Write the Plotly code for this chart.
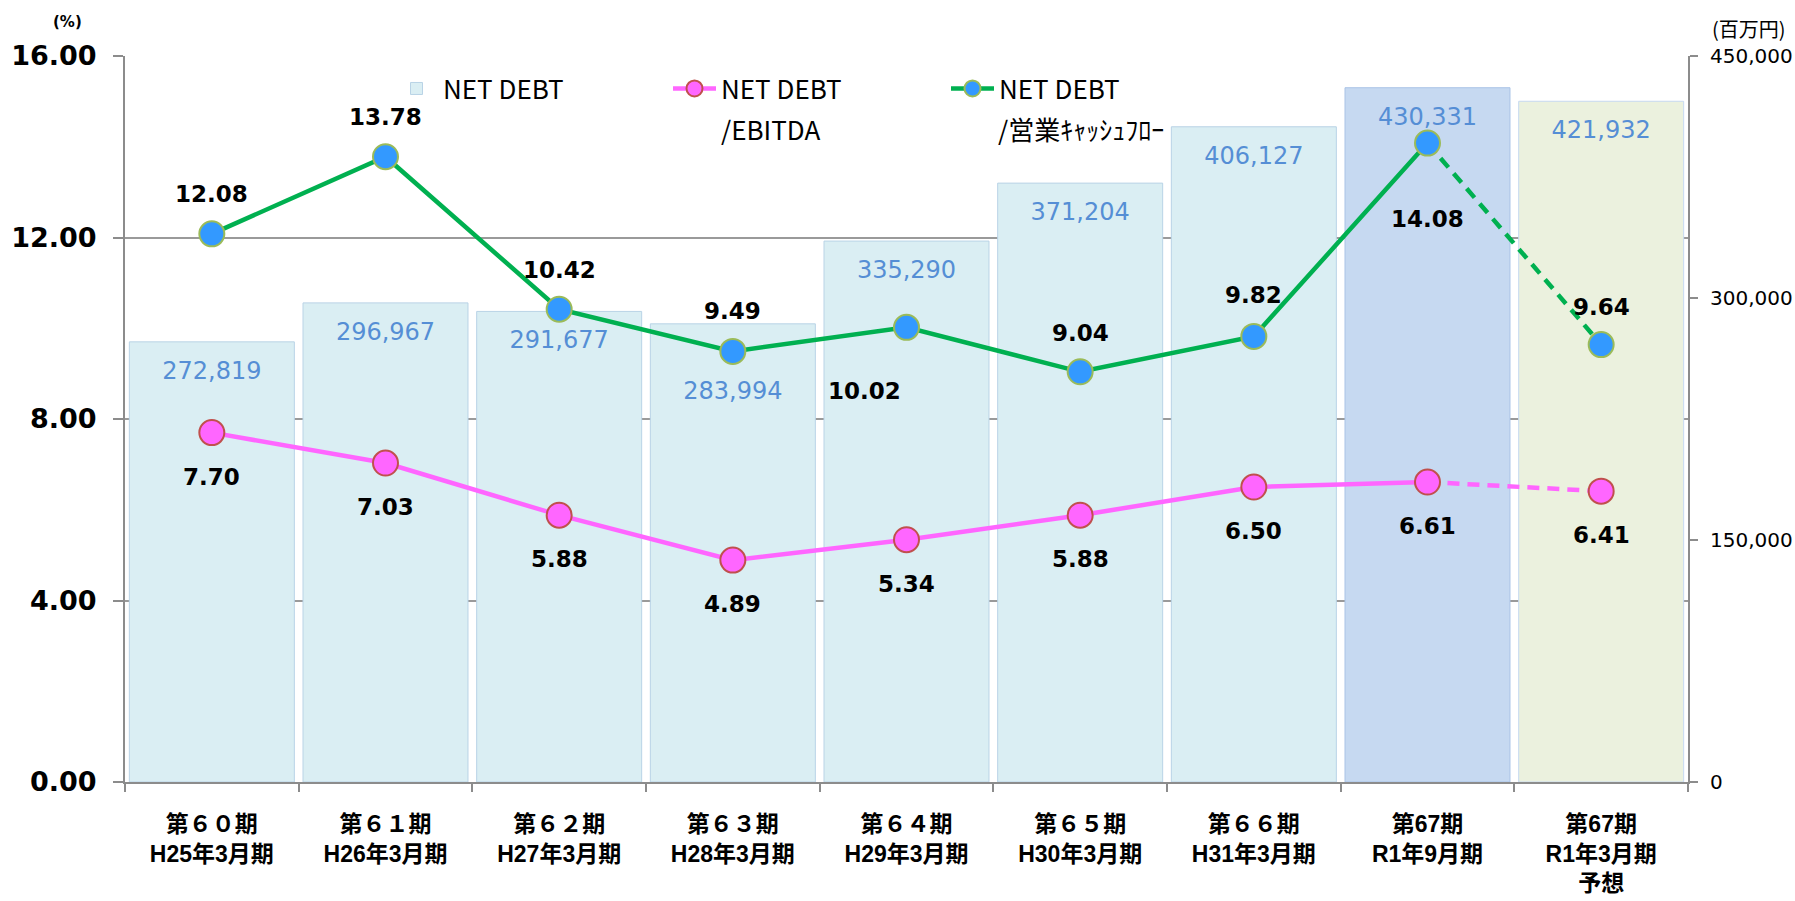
import plotly.graph_objects as go

# ---- data ----
periods = ["第６０期", "第６１期", "第６２期", "第６３期", "第６４期",
           "第６５期", "第６６期", "第67期", "第67期"]
fiscal = ["H25年3月期", "H26年3月期", "H27年3月期", "H28年3月期", "H29年3月期",
          "H30年3月期", "H31年3月期", "R1年9月期", "R1年3月期"]
notes = ["", "", "", "", "", "", "", "", "予想"]
net_debt = [272819, 296967, 291677, 283994, 335290, 371204, 406127, 430331, 421932]
nd_ebitda = [7.70, 7.03, 5.88, 4.89, 5.34, 5.88, 6.50, 6.61, 6.41]
nd_opcf = [12.08, 13.78, 10.42, 9.49, 10.02, 9.04, 9.82, 14.08, 9.64]
legend_names = ["NET DEBT", "NET DEBT", "NET DEBT"]
legend_subtitles = ["/EBITDA", "/営業ｷｬｯｼｭﾌﾛｰ"]

# ---- styles ----
bar_colors = ["#DAEEF3"] * 7 + ["#C6D9F1", "#EBF1DE"]
bar_edges = ["#B9D3E6"] * 7 + ["#A9C3E6", "#C6D9F1"]
bar_label_shift_px = [31, 31, 31, 69, 31, 31, 31, 31, 31]
green_label_shift = [(0, 40), (0, 40), (0, 39), (0, 40), (-42, -64), (0, 39), (0, 41), (0, -76), (0, 38)]
pink_label_shift = [(0, -44)] * 9

W, H = 1795, 901
ML, MR, MT, MB = 125, 107, 56, 119
PLOT_W = W - ML - MR
PLOT_H = H - MT - MB
Y1_MAX = 450000
Y2_MAX = 16

cats = []
for p, f, n in zip(periods, fiscal, notes):
    c = p + "<br>" + f
    if n:
        c += "<br>" + n
    cats.append(c)

fig = go.Figure()

fig.add_trace(go.Bar(
    x=cats, y=net_debt, name=legend_names[0], yaxis="y",
    marker=dict(color=bar_colors, line=dict(color=bar_edges, width=1)),
))

# bar value labels (below top edge of bars)
label_y = [v - s * Y1_MAX / PLOT_H for v, s in zip(net_debt, bar_label_shift_px)]
fig.add_trace(go.Scatter(
    x=cats, y=label_y, yaxis="y", mode="text",
    text=[f"{v:,}" for v in net_debt],
    textfont=dict(family="DejaVu Sans", size=24, color="#558ED5"),
    showlegend=False, hoverinfo="skip",
))

PINK = "#FF66FF"
GREEN = "#00B050"
pink_marker = dict(size=25, color=PINK, line=dict(color="#C0504D", width=2))
green_marker = dict(size=25, color="#3399FF", line=dict(color="#9BBB59", width=2))

def add_series(vals, name, color, marker):
    fig.add_trace(go.Scatter(
        x=cats[7:9], y=vals[7:9], yaxis="y2", mode="lines",
        line=dict(color=color, width=4.5, dash="12px,8px"),
        showlegend=False, hoverinfo="skip",
    ))
    fig.add_trace(go.Scatter(
        x=cats[:8], y=vals[:8], yaxis="y2", mode="lines+markers", name=name,
        line=dict(color=color, width=4.5), marker=marker,
    ))
    fig.add_trace(go.Scatter(
        x=cats[8:], y=vals[8:], yaxis="y2", mode="markers",
        marker=marker, showlegend=False,
    ))

add_series(nd_ebitda, legend_names[1], PINK, pink_marker)
add_series(nd_opcf, legend_names[2], GREEN, green_marker)

LABEL_FONT = dict(family="DejaVu Sans", size=23, color="#000", weight="bold")
annotations = []
for c, v, (dx, dy) in zip(cats, nd_opcf, green_label_shift):
    annotations.append(dict(x=c, y=v, xref="x", yref="y2", text=f"{v:.2f}",
                            showarrow=False, xshift=dx, yshift=dy, font=LABEL_FONT))
for c, v, (dx, dy) in zip(cats, nd_ebitda, pink_label_shift):
    annotations.append(dict(x=c, y=v, xref="x", yref="y2", text=f"{v:.2f}",
                            showarrow=False, xshift=dx, yshift=dy, font=LABEL_FONT))

# second lines of the legend labels
for sub, px in zip(legend_subtitles, [719, 996]):
    annotations.append(dict(x=(px - ML) / PLOT_W, y=1 - (129 - MT) / PLOT_H,
                            xref="paper", yref="paper", xanchor="left", yanchor="middle",
                            text=sub, showarrow=False,
                            font=dict(family="Noto Sans CJK JP", size=26, color="#000")))

annotations.append(dict(x=(67 - ML) / PLOT_W, y=1 + (MT - 22) / PLOT_H, xref="paper", yref="paper",
                        xanchor="center", yanchor="middle",
                        text="(%)", showarrow=False,
                        font=dict(family="DejaVu Sans", size=15, color="#000", weight="bold")))
annotations.append(dict(x=1 + (1749 - (W - MR)) / PLOT_W, y=1 + (MT - 28) / PLOT_H,
                        xref="paper", yref="paper", xanchor="center", yanchor="middle",
                        text="(百万円)", showarrow=False,
                        font=dict(family="Noto Sans CJK JP", size=20, color="#000")))

AX = "#8C8C8C"
fig.update_layout(
    width=W, height=H, autosize=False,
    margin=dict(l=ML, r=MR, t=MT, b=MB, autoexpand=False),
    paper_bgcolor="white", plot_bgcolor="white",
    bargap=0.05,
    showlegend=True,
    legend=dict(
        orientation="h", x=(390 - ML) / PLOT_W, xanchor="left",
        y=0.9875, yanchor="top", valign="middle",
        font=dict(family="Noto Sans CJK JP", size=26, color="#000"),
        bgcolor="rgba(0,0,0,0)", itemwidth=43,
        entrywidth=220, entrywidthmode="pixels",
    ),
    xaxis=dict(
        type="category", range=[-0.5, 8.5],
        showline=True, linecolor=AX, linewidth=2,
        ticks="outside", tickson="boundaries", ticklen=8, tickcolor=AX, tickwidth=1.5,
        tickfont=dict(family="Liberation Sans, Noto Sans CJK JP", size=23, color="#000", weight="bold"),
        ticklabelstandoff=20,
        showgrid=False,
    ),
    yaxis=dict(
        side="right", range=[0, Y1_MAX], tick0=0, dtick=150000, tickformat=",",
        showgrid=False, zeroline=False,
        showline=True, linecolor=AX, linewidth=2,
        ticks="outside", ticklen=8, tickcolor=AX, tickwidth=1.5,
        tickfont=dict(family="DejaVu Sans", size=20, color="#000"),
        ticklabelstandoff=8,
    ),
    yaxis2=dict(
        overlaying="y", side="left", range=[0, Y2_MAX], tick0=0, dtick=4, tickformat=".2f",
        showgrid=True, gridcolor="#9A9A9A", gridwidth=1.5, zeroline=False,
        showline=True, linecolor=AX, linewidth=2,
        ticks="outside", ticklen=10, tickcolor=AX, tickwidth=1.5,
        tickfont=dict(family="DejaVu Sans", size=27, color="#000", weight="bold"),
        ticklabelstandoff=11,
    ),
    annotations=annotations,
)

fig.write_html(
    "out.html",
    config={"displayModeBar": False},
    post_script="document.body.style.margin='0';document.body.style.overflow='hidden';",
)
